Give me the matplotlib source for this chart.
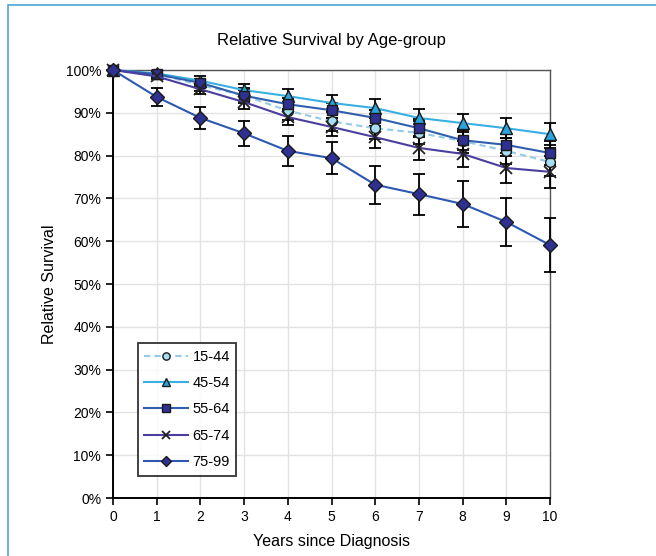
import numpy as np
import matplotlib
matplotlib.use("Agg")
import matplotlib.pyplot as plt
from matplotlib.patches import Rectangle
from matplotlib.ticker import PercentFormatter

plt.rcParams['font.family'] = ['Liberation Sans', 'DejaVu Sans']

years = [0, 1, 2, 3, 4, 5, 6, 7, 8, 9, 10]
groups = ["15-44", "45-54", "55-64", "65-74", "75-99"]

surv_15_44 = [100, 99.0, 96.5, 94.0, 90.5, 88.0, 86.4, 85.3, 83.4, 81.1, 78.5]
surv_45_54 = [100, 99.2, 97.5, 95.3, 93.9, 92.3, 91.1, 88.8, 87.6, 86.4, 85.0]
surv_55_64 = [100, 99.0, 97.0, 94.0, 92.0, 90.6, 88.8, 86.4, 83.6, 82.5, 80.6]
surv_65_74 = [100, 98.5, 95.5, 92.5, 89.0, 86.7, 84.3, 81.8, 80.4, 77.1, 76.2]
surv_75_99 = [100, 93.7, 88.8, 85.2, 81.1, 79.4, 73.2, 71.0, 68.7, 64.5, 59.1]

err_15_44 = [0, 0.8, 1.4, 1.8, 2.1, 2.3, 2.5, 2.7, 2.9, 3.1, 3.3]
err_45_54 = [0, 0.6, 1.0, 1.4, 1.6, 1.8, 2.1, 2.1, 2.2, 2.3, 2.6]
err_55_64 = [0, 0.6, 1.0, 1.3, 1.5, 1.7, 1.9, 2.1, 2.3, 2.5, 2.8]
err_65_74 = [0, 0.7, 1.2, 1.6, 1.9, 2.2, 2.5, 2.8, 3.1, 3.4, 3.8]
err_75_99 = [0, 2.0, 2.5, 3.0, 3.5, 3.8, 4.4, 4.8, 5.3, 5.7, 6.3]

series = [
    (surv_15_44, err_15_44, dict(color="#93cbe8", ls=(0, (3, 2)), marker="o",
                                 mfc="#a8def2", mec="#1a1a1a", ms=7)),
    (surv_45_54, err_45_54, dict(color="#3ab0e2", ls="-", marker="^",
                                 mfc="#2aa4dc", mec="#1a1a1a", ms=8)),
    (surv_55_64, err_55_64, dict(color="#2f5fae", ls="-", marker="s",
                                 mfc="#2e3192", mec="#1a1a1a", ms=7)),
    (surv_65_74, err_65_74, dict(color="#4a3e9e", ls="-", marker="x",
                                 mfc="none", mec="#222222", ms=8, mew=1.3)),
    (surv_75_99, err_75_99, dict(color="#2d58b2", ls="-", marker="D",
                                 mfc="#2e3192", mec="#1a1a1a", ms=7)),
]

fig = plt.figure(figsize=(6.56, 5.56), dpi=100)
# light blue frame round the figure
fig.patches.append(Rectangle((8 / 656, -0.1), 1.2, (556 - 5) / 556 + 0.1,
                             transform=fig.transFigure, fill=False,
                             ec="#4aa6d4", lw=1.2))
ax = fig.add_axes([113 / 656, 1 - 498 / 556, 437 / 656, 428 / 556])

for (vals, errs, st), name in zip(series, groups):
    ax.errorbar(years, vals, yerr=errs, fmt="none", ecolor="black",
                elinewidth=1.3, capsize=4, capthick=1.3, zorder=3, clip_on=False)
    ax.plot(years, vals, label=name, lw=1.5, zorder=4, clip_on=False, **st)

ax.set_xlim(0, 10)
ax.set_ylim(0, 100)
ax.set_xticks(years)
ax.set_yticks(np.arange(0, 101, 10))
ax.yaxis.set_major_formatter(PercentFormatter(decimals=0))
ax.grid(True, color="#e2e2e2", lw=1)
ax.set_axisbelow(True)
ax.tick_params(axis="both", labelsize=10, length=5, width=1.2, colors="black")
for s in ["left", "bottom"]:
    ax.spines[s].set_linewidth(1.4)
    ax.spines[s].set_color("black")
for s in ["top", "right"]:
    ax.spines[s].set_color("#555555")
    ax.spines[s].set_linewidth(1.0)

ax.set_title("Relative Survival by Age-group", fontsize=12, pad=18)
ax.set_xlabel("Years since Diagnosis", fontsize=11.5, labelpad=7)
ax.set_ylabel("Relative Survival", fontsize=11.5, labelpad=6)

leg = ax.legend(loc="lower left", bbox_to_anchor=(0.05, 0.045), fontsize=10.5,
                frameon=True, fancybox=False, edgecolor="black",
                handlelength=3.0, handletextpad=0.3, labelspacing=0.85,
                borderpad=0.45, borderaxespad=0.2, markerscale=0.75)
leg.get_frame().set_linewidth(1.3)

fig.savefig("out.png", dpi=100)
